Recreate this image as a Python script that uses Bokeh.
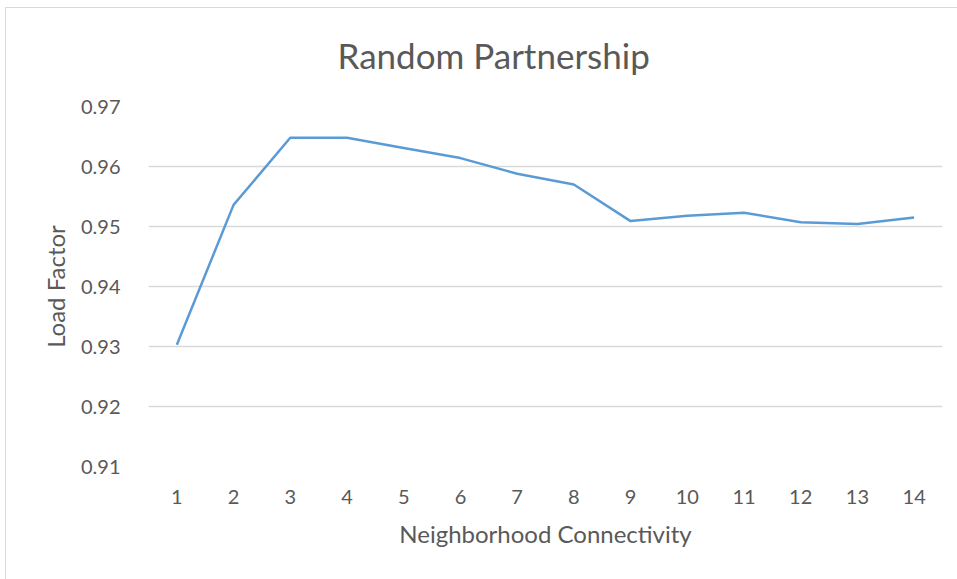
from bokeh.plotting import figure
from bokeh.models import FactorRange, Range1d, FixedTicker, NumeralTickFormatter
from bokeh.embed import file_html
from bokeh.resources import INLINE

# Neighborhood connectivity levels (x categories) and resulting load factor
neighborhood = [str(i) for i in range(1, 15)]
load_factor = [0.9303, 0.9536, 0.9648, 0.9648, 0.9631, 0.9614, 0.9588,
               0.9570, 0.9509, 0.9518, 0.9523, 0.9507, 0.9504, 0.9515]
y_ticks = [0.91, 0.92, 0.93, 0.94, 0.95, 0.96, 0.97]

TEXT = "#595959"
GRID = "#d9d9d9"
FONT = "Lato"

p = figure(
    width=957, height=579,
    x_range=FactorRange(*neighborhood, range_padding=0),
    y_range=Range1d(min(y_ticks), max(y_ticks)),
    output_backend="svg", toolbar_location=None, tools="",
    min_border_left=148, min_border_right=15,
    min_border_top=106, min_border_bottom=113,
)
# thin chart-area border along the left and top edges, drawn behind the canvas
p.border_fill_color = None
p.styles = {
    "background-image": f"linear-gradient({GRID}, {GRID}), linear-gradient({GRID}, {GRID})",
    "background-size": "100% 1px, 1px 100%",
    "background-position": "5px 7px, 5px 7px",
    "background-repeat": "no-repeat",
}

p.line(neighborhood, load_factor, line_color="#5b9bd5", line_width=2.5)

# chart title, placed over the middle of the whole chart rather than the plot frame
p.title.text = "Random Partnership"
p.title.align = "left"
p.title.offset = 189
p.title.text_font = FONT
p.title.text_font_size = "35px"
p.title.text_font_style = "normal"
p.title.text_color = TEXT
p.title.standoff = 62

p.outline_line_color = None
p.background_fill_color = "white"

p.xgrid.grid_line_color = None
p.ygrid.grid_line_color = GRID
p.ygrid.grid_line_width = 1.3

p.yaxis.ticker = FixedTicker(ticks=y_ticks)
p.yaxis.formatter = NumeralTickFormatter(format="0.00")

for ax in (p.xaxis[0], p.yaxis[0]):
    ax.axis_line_color = None
    ax.major_tick_line_color = None
    ax.minor_tick_line_color = None
    ax.major_label_text_font = FONT
    ax.major_label_text_font_size = "20px"
    ax.major_label_text_color = TEXT
    ax.axis_label_text_font = FONT
    ax.axis_label_text_font_size = "24px"
    ax.axis_label_text_font_style = "normal"
    ax.axis_label_text_color = TEXT

p.xaxis.axis_label = "Neighborhood Connectivity"
p.xaxis.major_label_standoff = 17
p.xaxis.axis_label_standoff = 12
p.yaxis.axis_label = "Load Factor"
p.yaxis.major_label_standoff = 22
p.yaxis.axis_label_standoff = 8

open("out.html", "w").write(file_html(p, INLINE))
